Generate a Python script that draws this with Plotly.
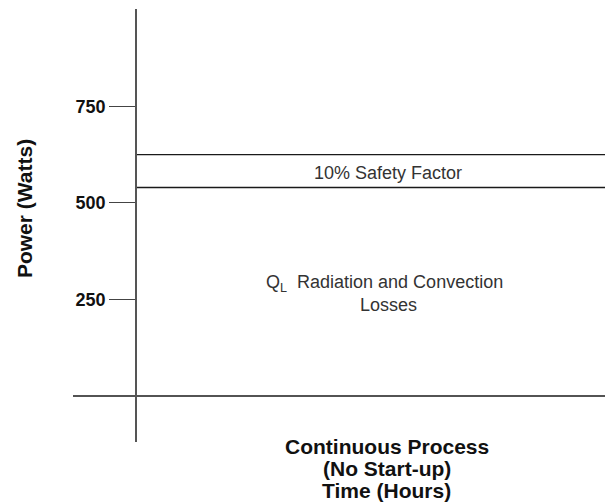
import plotly.graph_objects as go

# Data (schematic values)
x_range = [-1.0, 7.444]          # time axis (hours, schematic)
y_range = [-119, 1002]           # power axis (watts)
y_ticks = [250, 500, 750]
y_tick_labels = ["250", "500", "750"]
loss_level = 540                 # Q_L radiation and convection losses
safety_level = 625               # with 10% safety factor
baseline = 0
x_title_lines = ["Continuous Process", "(No Start-up)", "Time (Hours)"]
y_title = "Power (Watts)"

fig = go.Figure()

line_style = dict(color="#1a1a1a", width=1.4)
# Baseline (extends left of the power axis)
fig.add_trace(go.Scatter(x=[x_range[0], x_range[1]], y=[baseline, baseline],
                         mode="lines", line=line_style, hoverinfo="skip", showlegend=False))
# Loss level
fig.add_trace(go.Scatter(x=[0, x_range[1]], y=[loss_level, loss_level],
                         mode="lines", line=line_style, hoverinfo="skip", showlegend=False))
# Safety factor level
fig.add_trace(go.Scatter(x=[0, x_range[1]], y=[safety_level, safety_level],
                         mode="lines", line=line_style, hoverinfo="skip", showlegend=False))

FAMILY = "Liberation Sans, Arial, Helvetica, sans-serif"
text_font = dict(family=FAMILY, size=18, color="#333333")
bold_font = dict(family=FAMILY, size=21, color="#111111")

fig.add_annotation(x=4.0, y=577, text="10% Safety Factor",
                   showarrow=False, font=text_font, xanchor="center", yanchor="middle")
fig.add_annotation(x=3.95, y=292, text="Q<sub>L</sub>  Radiation and Convection",
                   showarrow=False, font=text_font, xanchor="center", yanchor="middle")
fig.add_annotation(x=4.0, y=236, text="Losses",
                   showarrow=False, font=text_font, xanchor="center", yanchor="middle")

# x-axis title (three tightly spaced lines below the plot)
for i, line in enumerate(x_title_lines):
    fig.add_annotation(x=3.98, yref="paper", y=-0.0115 - i * 0.0508, text="<b>" + line + "</b>",
                       showarrow=False, font=bold_font, xanchor="center", yanchor="middle")

fig.add_annotation(xref="paper", x=-0.092, yref="paper", y=0.538, text="<b>" + y_title + "</b>",
                   textangle=-90, showarrow=False, font=bold_font,
                   xanchor="center", yanchor="middle")

fig.update_layout(
    width=605, height=502,
    margin=dict(l=73, r=0, t=9, b=60),
    paper_bgcolor="white", plot_bgcolor="white",
    xaxis=dict(range=x_range, visible=False, fixedrange=True),
    yaxis=dict(range=y_range, anchor="free", position=(0 - x_range[0]) / (x_range[1] - x_range[0]),
               tickvals=y_ticks, ticktext=y_tick_labels,
               ticks="outside", ticklen=26, tickwidth=1.4, tickcolor="#444444",
               showline=True, linecolor="#555555", linewidth=1.6,
               showgrid=False, zeroline=False,
               tickfont=dict(family=FAMILY, size=18, color="#111111", weight="bold"),
               fixedrange=True),
)

fig.write_html("out.html",
               config={"displayModeBar": False},
               post_script="document.body.style.margin='0';document.body.style.overflow='hidden';")
